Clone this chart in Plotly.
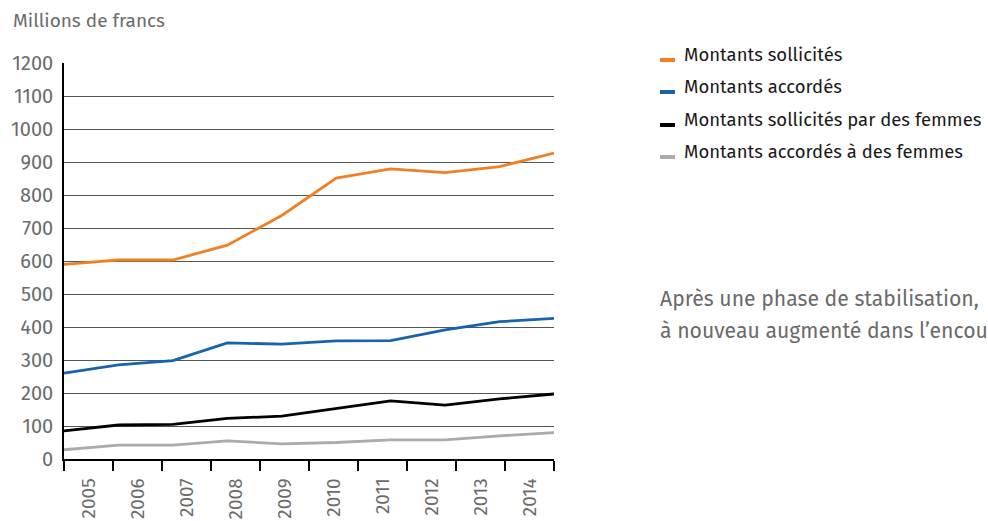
import plotly.graph_objects as go

years = ["2005", "2006", "2007", "2008", "2009", "2010", "2011", "2012", "2013", "2014"]
sollicites = [590, 603, 603, 648, 738, 851, 879, 868, 886, 927]
accordes = [260, 285, 298, 352, 348, 358, 359, 391, 416, 426]
sollicites_femmes = [85, 103, 105, 123, 130, 152, 176, 163, 182, 197]
accordes_femmes = [28, 42, 42, 55, 46, 50, 58, 58, 70, 80]

series = [
    ("Montants sollicités", sollicites, "#F28023"),
    ("Montants accordés", accordes, "#1763AD"),
    ("Montants sollicités par des femmes", sollicites_femmes, "#000000"),
    ("Montants accordés à des femmes", accordes_femmes, "#ABABAB"),
]

FONT = "Fira Sans, Noto Sans, sans-serif"
W, H = 988, 521
L, R, T, B = 64, 554, 63, 459

def px(x):
    return (x - L) / (R - L)

def py(y):
    return (B - y) / (B - T)

fig = go.Figure()
idx = list(range(len(years)))
for name, vals, col in series:
    fig.add_trace(go.Scatter(x=idx, y=vals, mode="lines", name=name,
                             line=dict(color=col, width=2.8), showlegend=False,
                             hoverinfo="skip"))

# category band axis for year labels
fig.add_trace(go.Scatter(x=[i + 0.5 for i in idx], y=[None] * len(idx), xaxis="x2",
                         mode="lines", showlegend=False, hoverinfo="skip"))

shapes = []
annotations = []
rows_y = [55, 87, 120, 152]
for (name, vals, col), ry in zip(series, rows_y):
    shapes.append(dict(type="rect", xref="paper", yref="paper",
                       x0=px(660), x1=px(675), y0=py(ry + 7), y1=py(ry + 3),
                       fillcolor=col, line=dict(width=0)))
    annotations.append(dict(xref="paper", yref="paper", x=px(682), y=py(ry),
                            xanchor="left", yanchor="middle", showarrow=False,
                            text=name, font=dict(family=FONT, size=18.5, color="#1a1a1a")))

annotations.append(dict(xref="paper", yref="paper", x=px(11), y=py(20),
                        xanchor="left", yanchor="middle", showarrow=False,
                        text="Millions de francs", font=dict(family=FONT, size=19, color="#6b6b6b")))
annotations.append(dict(xref="paper", yref="paper", x=px(658), y=py(299),
                        xanchor="left", yanchor="middle", showarrow=False,
                        text="Après une phase de stabilisation,", font=dict(family=FONT, size=21.2, color="#6b6b6b")))
annotations.append(dict(xref="paper", yref="paper", x=px(658), y=py(331),
                        xanchor="left", yanchor="middle", showarrow=False,
                        text="à nouveau augmenté dans l’encou", font=dict(family=FONT, size=21.2, color="#6b6b6b")))

fig.update_layout(
    width=W, height=H,
    margin=dict(l=L, r=W - R, t=T, b=H - B, autoexpand=False),
    paper_bgcolor="white", plot_bgcolor="white",
    font=dict(family=FONT, size=19, color="#6b6b6b"),
    xaxis=dict(range=[0, 9], showgrid=False, zeroline=False, showline=False, automargin=False,
               showticklabels=False, ticks="", fixedrange=True),
    xaxis2=dict(range=[0, 10], overlaying="x", side="bottom", showgrid=False, zeroline=False,
                automargin=False,
                showline=True, linecolor="#000000", linewidth=1.5,
                tickmode="array", tickvals=[i + 0.5 for i in idx], ticktext=years,
                ticks="outside", ticklen=10, tickcolor="rgba(0,0,0,0)", tickangle=-90,
                tickfont=dict(family=FONT, size=19, color="#6b6b6b"),
                minor=dict(tickmode="linear", tick0=0, dtick=1, ticks="outside",
                           ticklen=10, tickcolor="#000000", tickwidth=1.5, showgrid=False)),
    yaxis=dict(range=[0, 1200], dtick=100, tick0=0, showgrid=True, gridcolor="#555555",
               gridwidth=1, zeroline=False, showline=True, linecolor="#000000", linewidth=1.5,
               automargin=False,
               ticks="outside", ticklen=5, tickcolor="rgba(0,0,0,0)",
               tickfont=dict(family=FONT, size=20, color="#6b6b6b")),
    shapes=shapes,
    annotations=annotations,
)

fig.write_html("out.html", config={"displayModeBar": False},
               post_script="document.body.style.margin='0';document.body.style.overflow='hidden';")
